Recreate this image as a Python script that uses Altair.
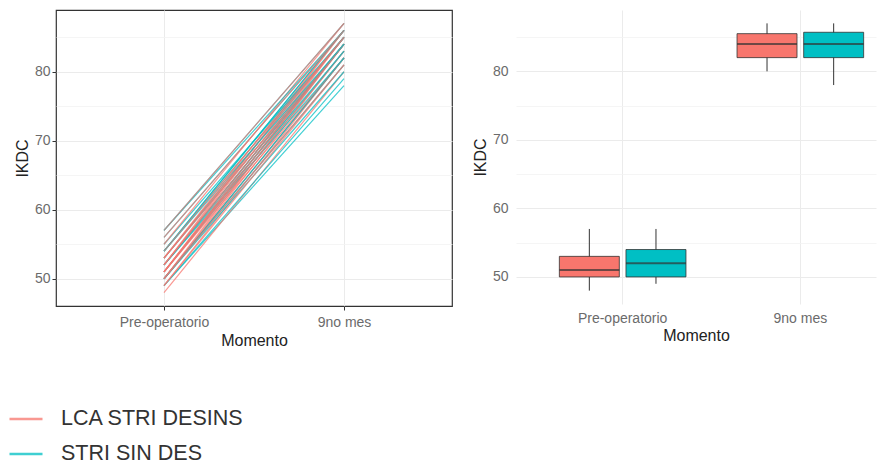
import altair as alt
import pandas as pd

# ---- data ----
moments = ["Pre-operatorio", "9no mes"]
groups = ["LCA STRI DESINS", "STRI SIN DES"]
colors = ["#F8766D", "#00BFC4"]

# per-patient IKDC, left panel
red_pre = [48, 49, 49, 50, 50, 50, 50, 51, 51, 51, 51, 51, 52, 52, 52, 53, 53, 53, 54, 55, 56, 57]
red_post = [80, 82, 81, 82, 83, 81, 84, 82, 84, 83, 85, 84, 84, 85, 86, 85, 84, 86, 85, 87, 86, 87]
teal_pre = [49, 49, 50, 50, 50, 50, 51, 51, 52, 52, 52, 52, 53, 53, 54, 54, 54, 54, 55, 56, 57, 57]
teal_post = [78, 79, 80, 82, 82, 81, 83, 84, 82, 84, 83, 84, 85, 84, 86, 85, 86, 84, 85, 86, 86, 87]

# box summaries, right panel
box_group = ["LCA STRI DESINS", "STRI SIN DES", "LCA STRI DESINS", "STRI SIN DES"]
box_moment = ["Pre-operatorio", "Pre-operatorio", "9no mes", "9no mes"]
box_min = [48, 49, 80, 78]
box_q1 = [50, 50, 82, 82]
box_med = [51, 52, 84, 84]
box_q3 = [53, 54, 85.5, 85.7]
box_max = [57, 57, 87, 87]

y_domain = [46.05, 88.95]
y_ticks = [50, 55, 60, 65, 70, 75, 80, 85]

# ---- tables (patients of both groups interleaved so the lines mix) ----
rows = []
for i in range(len(red_pre)):
    for g, pre, post in ((groups[1], teal_pre, teal_post), (groups[0], red_pre, red_post)):
        rows.append({"id": f"{g}-{i}", "grupo": g, "Momento": moments[0], "IKDC": pre[i]})
        rows.append({"id": f"{g}-{i}", "grupo": g, "Momento": moments[1], "IKDC": post[i]})
lines_df = pd.DataFrame(rows)

box_df = pd.DataFrame({
    "grupo": box_group, "Momento": box_moment,
    "min": box_min, "q1": box_q1, "med": box_med, "q3": box_q3, "max": box_max,
})

FONT = "Liberation Sans"
major = "datum.value % 10 === 0"


def y_axis(ticks):
    return alt.Axis(
        title="IKDC",
        values=y_ticks,
        labelExpr=f"{major} ? datum.label : ''",
        gridColor={"condition": {"test": major, "value": "#EBEBEB"}, "value": "#F3F3F3"},
        gridWidth={"condition": {"test": major, "value": 1.1}, "value": 0.8},
        ticks=ticks,
        tickColor="#333333",
        tickSize=4,
        tickOpacity={"condition": {"test": major, "value": 1}, "value": 0},
        domain=False,
        labelPadding=2 if ticks else 8,
        titlePadding=4,
    )


color = alt.Color(
    "grupo:N",
    scale=alt.Scale(domain=groups, range=colors),
    legend=alt.Legend(
        orient="none", legendX=-48, legendY=391, title=None,
        symbolType="stroke", symbolSize=1089, symbolStrokeWidth=2.5,
        symbolOpacity=0.75, labelFontSize=21.5, labelFont=FONT, labelColor="#333333",
        labelOffset=17, labelLimit=0, rowPadding=6, direction="vertical",
    ),
)

left = alt.Chart(lines_df).mark_line(strokeWidth=1.2, opacity=0.75).encode(
    x=alt.X("Momento:N", sort=moments, scale=alt.Scale(padding=0.6),
            axis=alt.Axis(title="Momento", labelAngle=0, grid=True, gridColor="#EBEBEB",
                          ticks=True, tickColor="#333333", tickSize=4, domain=False,
                          labelPadding=5, titlePadding=3)),
    y=alt.Y("IKDC:Q", scale=alt.Scale(domain=y_domain, nice=False, zero=False), axis=y_axis(True)),
    color=color,
    detail="id:N",
).properties(width=396, height=296, view=alt.ViewBackground(stroke="#333333", strokeWidth=1.2))

x_right = alt.X(
    "Momento:N", sort=moments,
    scale=alt.Scale(paddingInner=0.25, paddingOuter=0.138, align=0.816),
    axis=alt.Axis(title="Momento", labelAngle=0, grid=True, gridColor="#EBEBEB",
                  ticks=False, domain=False, bandPosition=0.5, labelPadding=7, titlePadding=2),
)
x_off = alt.XOffset("grupo:N", sort=groups, scale=alt.Scale(paddingInner=0.1, paddingOuter=0.05))
y_scale = alt.Scale(domain=y_domain, nice=False, zero=False)

base = alt.Chart(box_df).encode(x=x_right, xOffset=x_off)
whisk = base.mark_rule(color="#333333", strokeWidth=1).encode(
    y=alt.Y("min:Q", scale=y_scale, axis=y_axis(False), title="IKDC"), y2="max:Q")
boxes = base.mark_bar(stroke="#333333", strokeWidth=0.8).encode(
    y=alt.Y("q1:Q", scale=y_scale, title="IKDC"), y2="q3:Q", color=color)
meds = base.mark_tick(color="#333333", thickness=2, orient="horizontal").encode(
    y=alt.Y("med:Q", scale=y_scale, title="IKDC"))

right = alt.layer(whisk, boxes, meds).properties(
    width=360, height=294, view=alt.ViewBackground(stroke="transparent"))

chart = alt.hconcat(left, right, spacing=18).properties(
    padding={"left": 0, "top": 1, "right": 0, "bottom": -1},
).configure_axis(
    labelFont=FONT, labelFontSize=14, labelColor="#6b6b6b",
    titleFont=FONT, titleFontSize=16, titleFontWeight="normal", titleColor="#222222",
).configure_view(stroke="transparent")

chart.save("out.html", embed_options={"renderer": "svg", "actions": False})
